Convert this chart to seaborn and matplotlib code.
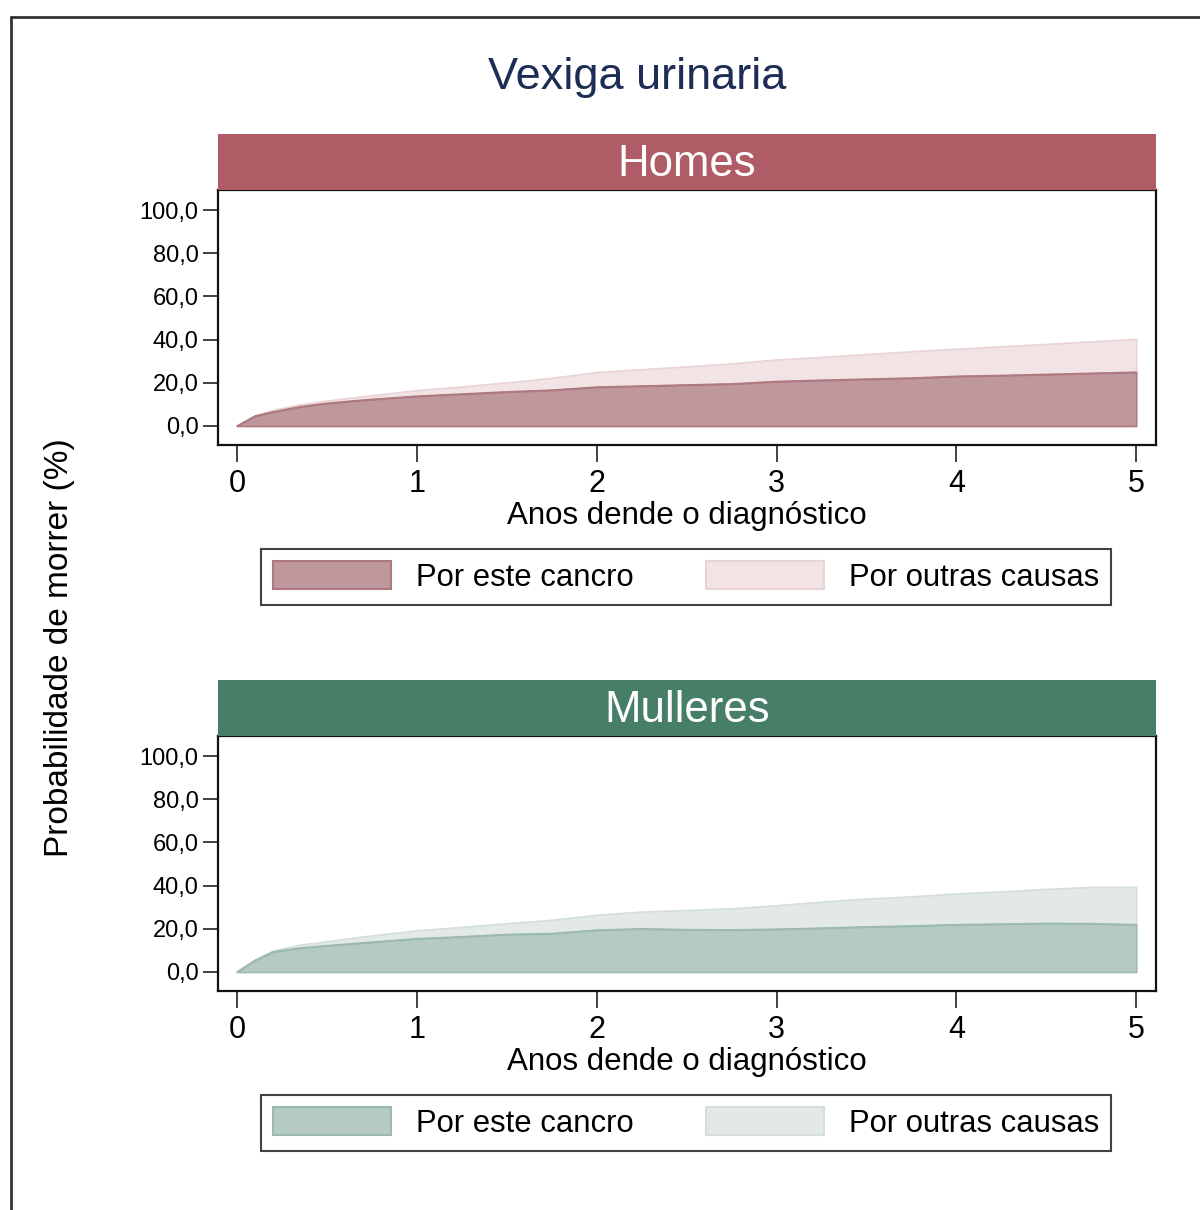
import numpy as np
import pandas as pd
import seaborn as sns
import matplotlib.pyplot as plt
from matplotlib.patches import Patch, Rectangle
from matplotlib.lines import Line2D

# years since diagnosis
anos = [0, 0.1, 0.2, 0.35, 0.5, 0.7, 1.0, 1.25, 1.5, 1.75, 2.0, 2.25, 2.5,
        2.75, 3.0, 3.25, 3.5, 3.75, 4.0, 4.25, 4.5, 4.75, 5.0]

# cumulative probability of death (%) - this cancer, and this cancer + other causes
homes_cancro = [0, 4.6, 6.5, 8.9, 10.5, 12.0, 13.8, 14.8, 15.8, 16.6, 18.0, 18.5,
                19.0, 19.5, 20.6, 21.2, 21.7, 22.2, 23.0, 23.4, 23.9, 24.4, 24.9]
homes_total = [0, 4.9, 7.5, 10.0, 11.8, 13.8, 16.6, 18.3, 20.2, 22.3, 25.0, 26.3,
               27.6, 29.0, 30.8, 32.0, 33.3, 34.6, 35.8, 36.9, 38.0, 39.2, 40.3]
mulleres_cancro = [0, 5.4, 9.3, 11.1, 12.2, 13.5, 15.4, 16.3, 17.4, 17.8, 19.4, 20.0,
                   19.6, 19.5, 19.8, 20.3, 20.9, 21.3, 21.9, 22.2, 22.5, 22.4, 21.9]
mulleres_total = [0, 5.7, 9.9, 12.7, 14.2, 16.5, 19.3, 20.9, 22.6, 24.2, 26.5, 28.0,
                  28.7, 29.5, 30.9, 32.6, 34.0, 35.0, 36.4, 37.3, 38.5, 39.4, 39.5]

yticks = [0, 20, 40, 60, 80, 100]
ytick_labels = ['0,0', '20,0', '40,0', '60,0', '80,0', '100,0']
xticks = [0, 1, 2, 3, 4, 5]
leyenda = ['Por este cancro', 'Por outras causas']

sns.set_theme(style='white')
plt.rcParams['font.family'] = ['Liberation Sans', 'DejaVu Sans']

W, H = 1200, 1210
fig = plt.figure(figsize=(W / 100, H / 100), dpi=100)


def fx(px):
    return px / W


def fy(py):
    return 1 - py / H


# outer frame (left + top only visible)
fig.add_artist(Line2D([fx(11), fx(11)], [fy(17), 0], color='#333333', lw=2, transform=fig.transFigure))
fig.add_artist(Line2D([fx(11), 1], [fy(17), fy(17)], color='#333333', lw=2, transform=fig.transFigure))

fig.text(fx(637), fy(77), 'Vexiga urinaria', ha='center', va='center', fontsize=32.5, color='#1E2D56')
fig.text(fx(60), fy(648), 'Probabilidade de morrer (%)', ha='center', va='center',
         rotation=90, fontsize=24, color='black')

paneles = [
    ('Homes', homes_cancro, homes_total, 134, '#AF5C67', '#BE989C', '#AE7A80', '#F2E4E5', '#E9D3D5'),
    ('Mulleres', mulleres_cancro, mulleres_total, 680, '#477E67', '#B5CBC1', '#9DBAAE', '#E2E9E6', '#D4DFDA'),
]

for nome, cancro, total, top, cor_head, cor_c, ed_c, cor_o, ed_o in paneles:
    # header strip
    fig.add_artist(Rectangle((fx(218), fy(top + 56)), fx(1156) - fx(218), fy(top) - fy(top + 56),
                             facecolor=cor_head, edgecolor='none', transform=fig.transFigure))
    fig.text(fx(687), fy(top + 30), nome, ha='center', va='center', fontsize=31.5, color='white')

    ax = fig.add_axes([fx(218), fy(top + 311), fx(1156) - fx(218), fy(top + 56) - fy(top + 311)])
    df = pd.DataFrame({'anos': anos, 'cancro': cancro, 'total': total})
    ax.fill_between(df['anos'], df['cancro'], df['total'], facecolor=cor_o, edgecolor=ed_o, lw=1.2)
    ax.fill_between(df['anos'], 0, df['cancro'], facecolor=cor_c, edgecolor=ed_c, lw=1.2)
    sns.lineplot(data=df, x='anos', y='cancro', ax=ax, color=ed_c, lw=1.2)

    ax.set_xlim(-0.106, 5.11)
    ax.set_ylim(-8.8, 109.3)
    ax.set_yticks(yticks)
    ax.set_yticklabels(ytick_labels)
    ax.set_xticks(xticks)
    ax.set_xticklabels([str(v) for v in xticks])
    ax.tick_params(axis='y', direction='out', length=11, width=1.3, color='#333333',
                   labelsize=17, pad=3, left=True, labelcolor='black')
    ax.tick_params(axis='x', direction='out', length=12, width=1.3, color='#333333',
                   labelsize=22, pad=5, bottom=True, labelcolor='black')
    ax.set_xlabel('Anos dende o diagnóstico', fontsize=22.5, labelpad=2, color='black')
    ax.set_ylabel('')
    for s in ax.spines.values():
        s.set_visible(True)
        s.set_color('#111111')
        s.set_linewidth(1.6)

    handles = [Patch(facecolor=cor_c, edgecolor=ed_c, lw=1.5),
               Patch(facecolor=cor_o, edgecolor=ed_o, lw=1.5)]
    leg = fig.legend(handles, leyenda, loc='center', bbox_to_anchor=(fx(686), fy(top + 443)),
                     ncol=2, fontsize=22.3, frameon=True, fancybox=False, edgecolor='#111111',
                     handlelength=3.8, handleheight=1.0, handletextpad=0.8, columnspacing=2.35,
                     borderpad=0.4, labelcolor='black')
    leg.get_frame().set_linewidth(1.5)

fig.savefig('out.png', dpi=100)
